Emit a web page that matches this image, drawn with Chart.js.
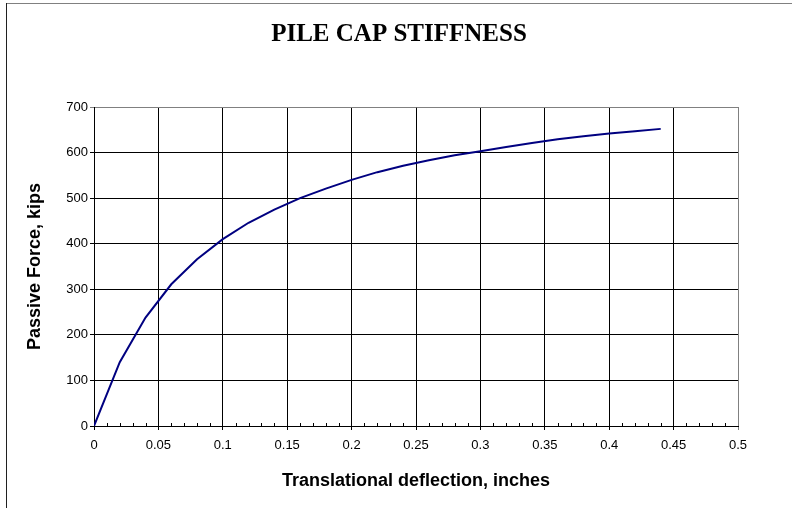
<!DOCTYPE html>
<html>

<head>
  <meta charset="utf-8">
  <title>Pile Cap Stiffness</title>
  <script src="https://cdn.jsdelivr.net/npm/chart.js@4.4.1/dist/chart.umd.min.js"></script>
  <style>
    html, body { margin: 0; padding: 0; background: #fff; }
  </style>
</head>

<body>
  <canvas id="stiffnessChart" width="792" height="508"></canvas>

  <script>
    // load-deflection curve, one point every 0.02 in
    const deflection = [0, 0.02, 0.04, 0.06, 0.08, 0.10, 0.12, 0.14, 0.16, 0.18, 0.20, 0.22,
      0.24, 0.26, 0.28, 0.30, 0.32, 0.34, 0.36, 0.38, 0.40, 0.42, 0.44];
    const passiveForce = [0, 140, 238, 311, 366, 410, 446, 475, 500, 521, 540, 557,
      571, 583, 594, 603, 612, 621, 629, 636, 642, 647, 652];

    const xTicks = [0, 0.05, 0.1, 0.15, 0.2, 0.25, 0.3, 0.35, 0.4, 0.45, 0.5];
    const yTicks = [0, 100, 200, 300, 400, 500, 600, 700];

    const sans = "'Liberation Sans', Arial, sans-serif";

    // white page with the outer frame edges
    const frame = {
      id: 'frame',
      beforeDraw(chart) {
        const ctx = chart.ctx;
        ctx.save();
        ctx.fillStyle = '#fff';
        ctx.fillRect(0, 0, chart.width, chart.height);
        ctx.lineWidth = 1;
        ctx.strokeStyle = '#808080';
        ctx.beginPath();
        ctx.moveTo(6, 3.5);
        ctx.lineTo(chart.width, 3.5);
        ctx.stroke();
        ctx.strokeStyle = '#202020';
        ctx.beginPath();
        ctx.moveTo(6.5, 3);
        ctx.lineTo(6.5, chart.height);
        ctx.stroke();
        ctx.restore();
      }
    };

    // small inside ticks every 0.01 on the x axis
    const minorTicks = {
      id: 'minorTicks',
      afterDraw(chart) {
        const x = chart.scales.x;
        const ctx = chart.ctx;
        const y0 = Math.round(chart.chartArea.bottom);
        ctx.save();
        ctx.strokeStyle = '#000';
        ctx.lineWidth = 1;
        ctx.beginPath();
        for (let i = 1; i < 50; i++) {
          if (i % 5 === 0) continue;
          const px = Math.round(x.getPixelForValue(i / 100)) + 0.5;
          ctx.moveTo(px, y0);
          ctx.lineTo(px, y0 - 3);
        }
        ctx.stroke();
        ctx.restore();
      }
    };

    const gridColor = (last) => (c) => c.tick && c.tick.value === last ? '#808080' : '#000';

    new Chart(document.getElementById('stiffnessChart'), {
      type: 'scatter',
      data: {
        datasets: [{
          data: deflection.map((d, i) => ({ x: d, y: passiveForce[i] })),
          showLine: true,
          borderColor: '#000080',
          borderWidth: 2,
          pointRadius: 0,
          tension: 0
        }]
      },
      options: {
        responsive: false,
        animation: false,
        devicePixelRatio: 1,
        layout: { padding: { left: 6, top: 0, right: 0, bottom: 0 } },
        plugins: {
          legend: { display: false },
          tooltip: { enabled: false },
          title: {
            display: true,
            text: 'PILE CAP STIFFNESS',
            color: '#000',
            font: { family: "'Liberation Serif', 'Times New Roman', serif", size: 25, weight: 'bold' },
            padding: { top: 20, bottom: 57 }
          }
        },
        scales: {
          x: {
            type: 'linear',
            min: 0,
            max: 0.5,
            afterBuildTicks: (s) => { s.ticks = xTicks.map(v => ({ value: v })); },
            afterFit: (s) => { s.height = 82; },
            ticks: {
              color: '#000',
              font: { family: sans, size: 13 },
              padding: 8,
              maxRotation: 0,
              autoSkip: false,
              callback: (v) => String(v)
            },
            grid: { color: gridColor(0.5), tickLength: 4, lineWidth: 1 },
            border: { color: '#000', width: 1 },
            title: {
              display: true,
              text: 'Translational deflection, inches',
              color: '#000',
              font: { family: sans, size: 18, weight: 'bold' },
              padding: { top: 0, bottom: 16 }
            }
          },
          y: {
            min: 0,
            max: 700,
            afterBuildTicks: (s) => { s.ticks = yTicks.map(v => ({ value: v })); },
            afterFit: (s) => { s.width = 88; },
            ticks: {
              color: '#000',
              font: { family: sans, size: 13 },
              padding: 2,
              callback: (v) => String(v)
            },
            grid: { color: gridColor(700), tickLength: 4, lineWidth: 1 },
            border: { color: '#000', width: 1 },
            title: {
              display: true,
              text: 'Passive Force, kips',
              color: '#000',
              font: { family: sans, size: 18, weight: 'bold' },
              padding: { top: 18, bottom: 0 }
            }
          },
          // empty right-hand strip so the plot ends short of the frame
          gutter: {
            position: 'right',
            display: true,
            grid: { display: false },
            border: { display: false },
            ticks: { display: false },
            afterFit: (s) => { s.width = 54; }
          }
        }
      },
      plugins: [frame, minorTicks]
    });
  </script>
</body>

</html>
